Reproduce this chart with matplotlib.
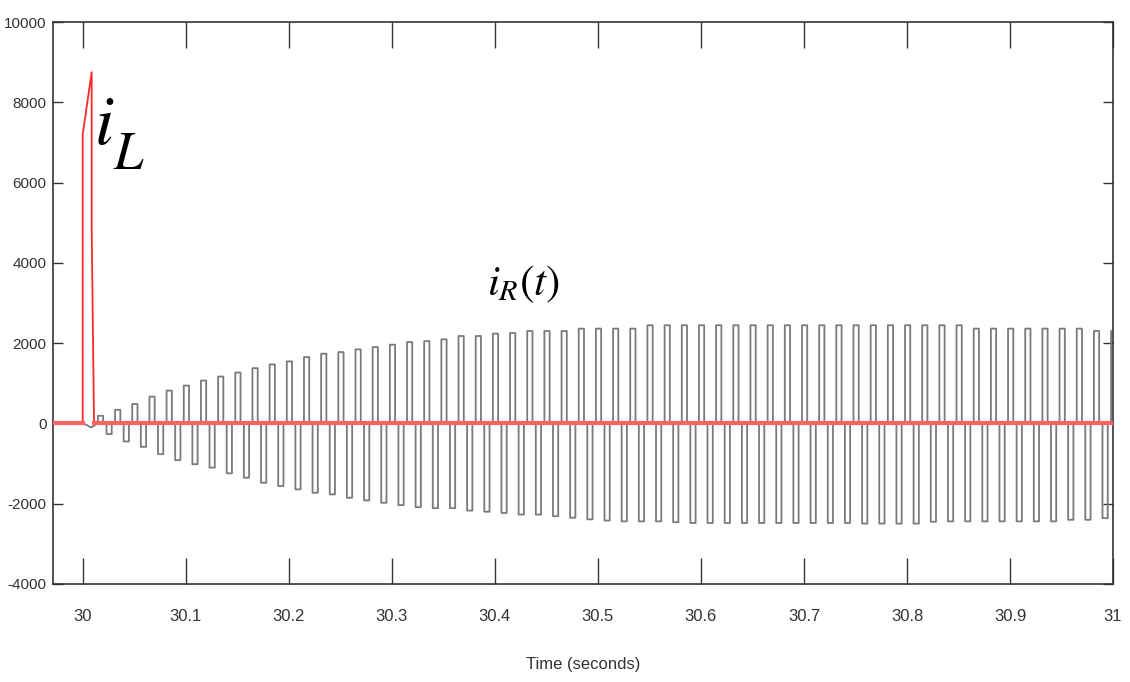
import numpy as np
import matplotlib
matplotlib.use("Agg")
import matplotlib.pyplot as plt

# --- data ---
# i_R(t): one positive and one negative pulse per 60 Hz cycle
freq = 60.0                 # Hz
t_first = 30.0173           # centre of first positive pulse (s)
pulse_w = 0.0051            # width of each conduction pulse (s)

ir_pos = [190, 340, 485, 668, 818, 943, 1068, 1168, 1268, 1377,
          1470, 1545, 1652, 1737, 1777, 1845, 1902, 1962, 2028, 2050,
          2095, 2178, 2178, 2237, 2253, 2303, 2303, 2303, 2362, 2362,
          2362, 2362, 2446, 2446, 2446, 2446, 2446, 2446, 2446, 2446,
          2446, 2446, 2446, 2446, 2446, 2446, 2446, 2446, 2446, 2446,
          2446, 2362, 2362, 2362, 2362, 2362, 2362, 2362, 2303, 2300]

ir_neg = [-265, -450, -583, -766, -916, -1016, -1101, -1242, -1352, -1477,
          -1560, -1643, -1727, -1768, -1852, -1917, -1977, -2035, -2085, -2110,
          -2110, -2170, -2200, -2230, -2270, -2270, -2310, -2350, -2390, -2420,
          -2440, -2440, -2440, -2460, -2480, -2480, -2480, -2480, -2480, -2480,
          -2480, -2480, -2480, -2480, -2495, -2495, -2495, -2495, -2450, -2440,
          -2440, -2440, -2440, -2440, -2440, -2440, -2400, -2400, -2360]

# small disturbance before the first pulse
pre_t = [29.9715, 30.0, 30.004, 30.008, 30.011, 30.0135]
pre_i = [0, 0, -40, -100, -60, 0]

# i_L(t): short spike at switching
il_t = [29.9715, 30.0, 30.0, 30.0087, 30.0087, 30.011, 31.0]
il_i = [0, 0, 7200, 8750, 4900, 0, 0]

yticks = [-4000, -2000, 0, 2000, 4000, 6000, 8000, 10000]
xticks = [30, 30.1, 30.2, 30.3, 30.4, 30.5, 30.6, 30.7, 30.8, 30.9, 31]
xlabels = ["30", "30.1", "30.2", "30.3", "30.4", "30.5", "30.6", "30.7", "30.8", "30.9", "31"]

# build the pulse train from the per-cycle amplitudes
t_r = list(pre_t)
i_r = list(pre_i)
half = pulse_w / 2
for k in range(len(ir_pos)):
    c = t_first + k / freq
    t_r += [c - half, c - half, c + half, c + half]
    i_r += [0, ir_pos[k], ir_pos[k], 0]
    if k < len(ir_neg):
        c2 = c + 0.5 / freq
        t_r += [c2 - half, c2 - half, c2 + half, c2 + half]
        i_r += [0, ir_neg[k], ir_neg[k], 0]

plt.rcParams['font.family'] = ['Liberation Sans', 'DejaVu Sans']
plt.rcParams['mathtext.fontset'] = 'stix'
plt.rcParams['axes.unicode_minus'] = False

fig = plt.figure(figsize=(11.3, 6.82), dpi=100)
ax = fig.add_axes([0.0472, 0.1437, 0.9378, 0.824])

ax.plot(t_r, i_r, color='#7a7a7a', lw=1.3, zorder=2)
# i_L: thin spike, thick zero line around it
ax.plot(il_t[:6], il_i[:6], color='#ff2a2a', lw=1.3, zorder=3)
ax.plot(il_t[5:], il_i[5:], color='#ff6262', lw=3.0, zorder=3)
ax.plot(il_t[:2], il_i[:2], color='#ff6262', lw=3.0, zorder=3)

ax.text(30.0105, 6950, r'$i$', fontsize=50, ha='left', va='baseline', color='black')
ax.text(30.029, 6350, r'$L$', fontsize=38, ha='left', va='baseline', color='black')
ax.text(30.392, 3200, r'$i_R(t)$', fontsize=31, ha='left', va='baseline', color='black')

ax.set_xlim(29.9715, 31.0)
ax.set_ylim(-4000, 10000)
ax.set_xticks(xticks)
ax.set_xticklabels(xlabels)
ax.set_yticks(yticks)
ax.tick_params(axis='x', direction='in', length=19, width=1.0, top=True, pad=18,
               labelsize=12, colors='#333333')
ax.tick_params(axis='y', direction='in', length=7, width=1.0, right=True, pad=5,
               labelsize=11, colors='#333333')
for s in ax.spines.values():
    s.set_linewidth(1.2)
    s.set_color('#333333')

ax.set_xlabel('Time (seconds)', fontsize=12, color='#333333', labelpad=24)

fig.savefig('out.png', dpi=100)
